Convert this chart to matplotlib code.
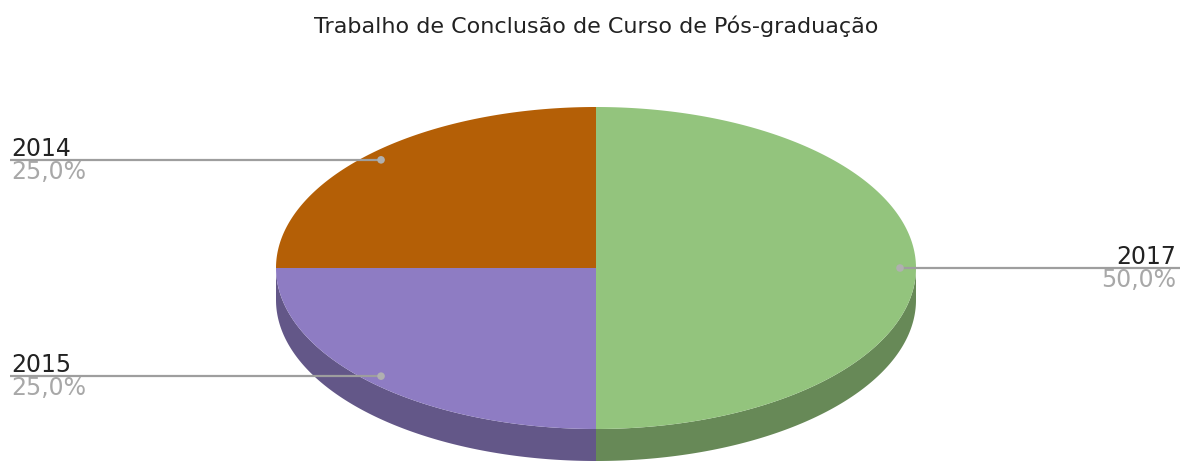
import numpy as np
import matplotlib
matplotlib.use("Agg")
import matplotlib.pyplot as plt
from matplotlib.patches import Polygon, Circle
from matplotlib.colors import to_rgb

# Data
labels = ["2017", "2015", "2014"]
values = [50.0, 25.0, 25.0]
colors = ["#93c47d", "#8e7cc3", "#b45f06"]
title = "Trabalho de Conclusão de Curso de Pós-graduação"

W, H = 1182, 461
fig = plt.figure(figsize=(W / 100, H / 100), dpi=100)
ax = fig.add_axes([0, 0, 1, 1])
ax.set_xlim(0, W)
ax.set_ylim(H, 0)
ax.axis("off")

# Ellipse geometry of the tilted pie (screen units, y downwards)
cx, cy, rx, ry, depth = 596, 268, 320, 161, 32


def arc(t0, t1, dy=0.0, n=200):
    t = np.radians(np.linspace(t0, t1, n))
    return np.column_stack([cx + rx * np.sin(t), cy - ry * np.cos(t) + dy])


def darker(c, f=0.7):
    return tuple(v * f for v in to_rgb(c))


total = sum(values)
angles = np.cumsum([0] + [v / total * 360 for v in values])

# Side walls (only the front half of the rim is visible)
for i, c in enumerate(colors):
    a0, a1 = max(angles[i], 90), min(angles[i + 1], 270)
    if a1 > a0:
        top = arc(a0, a1)
        bot = arc(a0, a1, depth)[::-1]
        ax.add_patch(Polygon(np.vstack([top, bot]), closed=True,
                             facecolor=darker(c), edgecolor="none", zorder=1))

# Top faces
for i, c in enumerate(colors):
    pts = np.vstack([[cx, cy], arc(angles[i], angles[i + 1])])
    ax.add_patch(Polygon(pts, closed=True, facecolor=c, edgecolor="none", zorder=2))

# Leader lines and labels
font = "DejaVu Sans"
for i, (lab, v) in enumerate(zip(labels, values)):
    mid = np.radians((angles[i] + angles[i + 1]) / 2)
    px = cx + 0.95 * rx * np.sin(mid)
    py = cy - 0.95 * ry * np.cos(mid)
    right = np.sin(mid) > 0
    ex = 1180 if right else 10
    ax.plot([px, ex], [py, py], color="#9e9e9e", lw=1.6, zorder=3,
            solid_capstyle="butt")
    ax.add_patch(Circle((px, py), 3.8, facecolor="#b0b0b0", edgecolor="none", zorder=4))
    tx = 1176 if right else 11
    ha = "right" if right else "left"
    ax.text(tx, py - 4, lab, ha=ha, va="baseline", fontsize=17, color="#222222",
            family=font, zorder=5)
    pct = f"{v:.1f}%".replace(".", ",")
    ax.text(tx, py + 19, pct, ha=ha, va="baseline", fontsize=17, color="#a8a8a8",
            family=font, zorder=5)

ax.text(596, 33, title, ha="center", va="baseline", fontsize=16,
        color="#222222", family=font)

fig.savefig("out.png", dpi=100, facecolor="white")
